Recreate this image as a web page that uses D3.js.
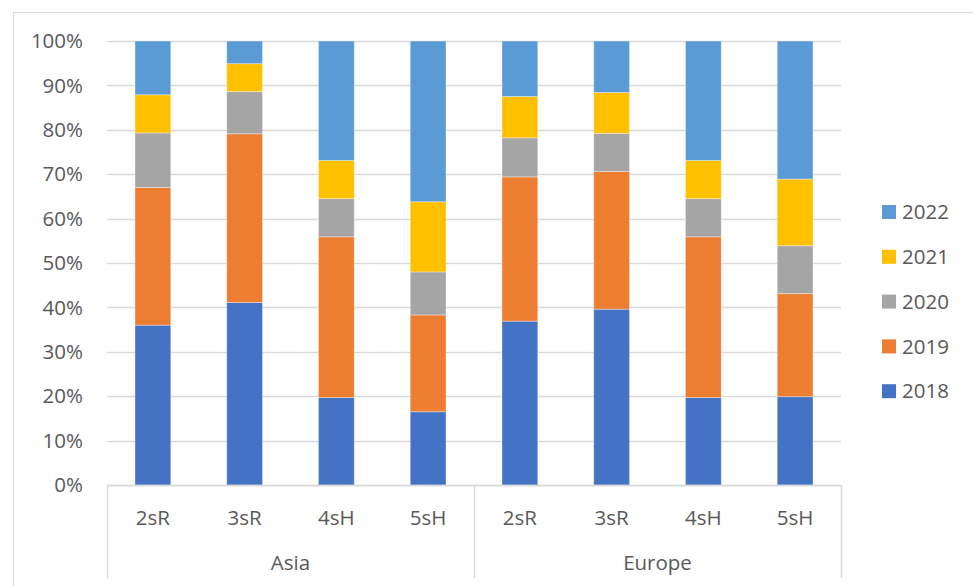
<!DOCTYPE html>
<html>
<head>
<meta charset="utf-8">
<script src="https://cdn.jsdelivr.net/npm/d3@7"></script>
<style>
  body { margin: 0; background: #fff; }
  text { font-family: "Open Sans", sans-serif; fill: #595959; }
</style>
</head>
<body>
<div id="chart"></div>
<script>
// data (percent of each bar)
const regions = ["Asia", "Europe"];
const types = ["2sR", "3sR", "4sH", "5sH"];
const years = ["2018", "2019", "2020", "2021", "2022"];
const v2018 = [36.0, 41.1, 19.7, 16.5, 36.9, 39.6, 19.7, 19.9];
const v2019 = [31.0, 38.0, 36.2, 21.8, 32.5, 31.0, 36.2, 23.2];
const v2020 = [12.3, 9.5, 8.6, 9.7, 8.8, 8.6, 8.6, 10.8];
const v2021 = [8.6, 6.3, 8.6, 15.8, 9.3, 9.2, 8.6, 15.0];
const v2022 = [12.1, 5.1, 26.9, 36.2, 12.5, 11.6, 26.9, 31.1];
const colors = ["#4472C4", "#ED7D31", "#A5A5A5", "#FFC000", "#5B9BD5"];
const yTicks = [0, 10, 20, 30, 40, 50, 60, 70, 80, 90, 100];

const width = 973, height = 586;
const margin = {top: 41, left: 107, right: 132, bottom: 101};
const fontSize = "20.5px";

const svg = d3.select("#chart")
    .append("svg")
    .attr("width", width)
    .attr("height", height);

// outer chart border
svg.append("rect")
    .attr("x", 13.5).attr("y", 12.5)
    .attr("width", width).attr("height", height)
    .attr("fill", "none")
    .attr("stroke", "#d9d9d9");

// rows: one per region/type pair
const rows = [];
regions.forEach((r, ri) => {
    types.forEach((t, ti) => {
        const i = ri * types.length + ti;
        rows.push({key: r + "|" + t, region: r, type: t,
            "2018": v2018[i], "2019": v2019[i], "2020": v2020[i], "2021": v2021[i], "2022": v2022[i]});
    });
});

const x = d3.scaleBand()
    .domain(rows.map(d => d.key))
    .range([margin.left, width - margin.right])
    .paddingInner(0.61)
    .paddingOuter(0.305);

const y = d3.scaleLinear()
    .domain([0, 100])
    .range([height - margin.bottom, margin.top]);

// gridlines
svg.append("g")
    .selectAll("line")
    .data(yTicks)
    .join("line")
    .attr("x1", margin.left)
    .attr("x2", width - margin.right)
    .attr("y1", d => Math.round(y(d)) + 0.5)
    .attr("y2", d => Math.round(y(d)) + 0.5)
    .attr("stroke", "#d9d9d9")
    .attr("stroke-width", 1.5);

// y tick labels
svg.append("g")
    .selectAll("text")
    .data(yTicks)
    .join("text")
    .attr("x", 83)
    .attr("y", d => y(d))
    .attr("dy", "0.35em")
    .attr("text-anchor", "end")
    .style("font-size", fontSize)
    .text(d => d + "%");

// stacked bars
const stack = d3.stack().keys(years);
const series = stack(rows);

svg.append("g")
    .selectAll("g")
    .data(series)
    .join("g")
    .attr("fill", (d, i) => colors[i])
    .selectAll("rect")
    .data(d => d)
    .join("rect")
    .attr("x", d => x(d.data.key))
    .attr("width", x.bandwidth())
    .attr("y", d => y(d[1]))
    .attr("height", d => y(d[0]) - y(d[1]))
    .attr("stroke", "#ffffff")
    .attr("stroke-opacity", 0.35)
    .attr("stroke-width", 1);

// category axis: baseline + group separators
const y0 = y(0);
const groupBottom = 578;
svg.append("line")
    .attr("x1", margin.left).attr("x2", width - margin.right)
    .attr("y1", y0 + 0.5).attr("y2", y0 + 0.5)
    .attr("stroke", "#d9d9d9").attr("stroke-width", 1.5);

const sepX = [0, 1, 2].map(i => margin.left + i * types.length * (width - margin.left - margin.right) / rows.length);
svg.append("g")
    .selectAll("line")
    .data(sepX)
    .join("line")
    .attr("x1", d => Math.round(d) + 0.5)
    .attr("x2", d => Math.round(d) + 0.5)
    .attr("y1", y0)
    .attr("y2", groupBottom)
    .attr("stroke", "#d9d9d9")
    .attr("stroke-width", 1.5);

// type labels
svg.append("g")
    .selectAll("text")
    .data(rows)
    .join("text")
    .attr("x", d => x(d.key) + x.bandwidth() / 2)
    .attr("y", 525)
    .attr("text-anchor", "middle")
    .style("font-size", fontSize)
    .text(d => d.type);

// region labels
svg.append("g")
    .selectAll("text")
    .data(regions)
    .join("text")
    .attr("x", (d, i) => (sepX[i] + sepX[i + 1]) / 2)
    .attr("y", 570)
    .attr("text-anchor", "middle")
    .style("font-size", fontSize)
    .text(d => d);

// legend, newest year on top
const legendYears = years.slice().reverse();
const legend = svg.append("g")
    .selectAll("g")
    .data(legendYears)
    .join("g")
    .attr("transform", (d, i) => `translate(882, ${212 + i * 44.8})`);

legend.append("rect")
    .attr("x", 0).attr("y", -7)
    .attr("width", 14).attr("height", 14)
    .attr("fill", d => colors[years.indexOf(d)]);

legend.append("text")
    .attr("x", 20)
    .attr("y", 0)
    .attr("dy", "0.35em")
    .style("font-size", fontSize)
    .text(d => d);
</script>
</body>
</html>
